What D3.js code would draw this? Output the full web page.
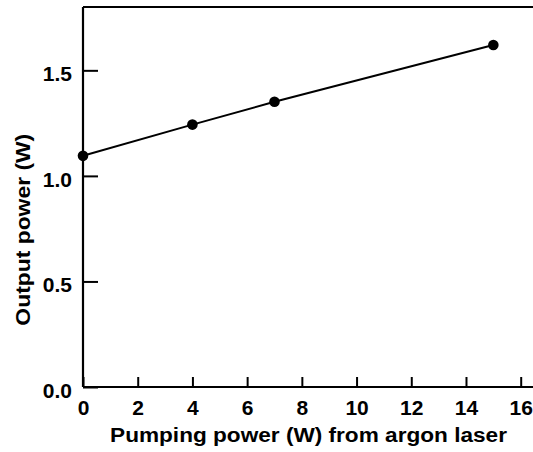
<!DOCTYPE html>
<html>
<head>
<meta charset="utf-8">
<script src="https://d3js.org/d3.v7.min.js"></script>
<style>
  body { margin: 0; background: #fff; }
  text { font-family: "Liberation Sans", Arial, sans-serif; font-weight: bold; fill: #000; }
</style>
</head>
<body>
<script>
// pumping power (W) and output power (W)
var pumping = [0, 4, 7, 15];
var output = [1.095, 1.243, 1.351, 1.62];
var xTicks = [0, 2, 4, 6, 8, 10, 12, 14, 16];
var yTicks = [0.0, 0.5, 1.0, 1.5];

var width = 533, height = 452;
var margin = {top: 7, right: 0, bottom: 65, left: 83};

var x = d3.scaleLinear().domain([0, 16]).range([margin.left, 520.7]);
var y = d3.scaleLinear().domain([0, 1.8]).range([height - margin.bottom, margin.top]);

var svg = d3.select('body').append('svg')
  .attr('width', width)
  .attr('height', height);

// x axis, ticks pointing inside
var gx = svg.append('g')
  .attr('transform', 'translate(0,' + y(0) + ')')
  .call(d3.axisBottom(x).tickValues(xTicks).tickSizeInner(-10).tickSizeOuter(0).tickPadding(13).tickFormat(d3.format('d')));
gx.select('.domain').remove();
gx.selectAll('line').attr('stroke', '#000').attr('stroke-width', 2);
gx.selectAll('text').style('font-size', '21px').attr('dy', '0.71em');

// y axis
var gy = svg.append('g')
  .attr('transform', 'translate(' + x(0) + ',0)')
  .call(d3.axisLeft(y).tickValues(yTicks).tickSizeInner(-15).tickSizeOuter(0).tickPadding(11).tickFormat(d3.format('.1f')));
gy.select('.domain').remove();
gy.selectAll('line').attr('stroke', '#000').attr('stroke-width', 2);
gy.selectAll('text').style('font-size', '21px').attr('dy', '0.5em');

// frame: left, bottom, top (open on the right)
var frame = svg.append('g').attr('stroke', '#000').attr('stroke-width', 2.2).attr('fill', 'none');
frame.append('line').attr('x1', x(0)).attr('x2', x(0)).attr('y1', y(1.8)).attr('y2', y(0));
frame.append('line').attr('x1', x(0)).attr('x2', width).attr('y1', y(0)).attr('y2', y(0));
frame.append('line').attr('x1', x(0)).attr('x2', width).attr('y1', y(1.8)).attr('y2', y(1.8));

var pts = pumping.map(function(p, i) { return {p: p, o: output[i]}; });

svg.append('path')
  .datum(pts)
  .attr('fill', 'none')
  .attr('stroke', '#000')
  .attr('stroke-width', 2)
  .attr('d', d3.line().x(d => x(d.p)).y(d => y(d.o)));

svg.selectAll('circle')
  .data(pts)
  .enter()
  .append('circle')
  .attr('cx', d => x(d.p))
  .attr('cy', d => y(d.o))
  .attr('r', 5.3)
  .attr('fill', '#000');

// axis titles (original lettering is a bit wider than Liberation Sans)
svg.append('text')
  .attr('transform', 'translate(308.5,442) scale(1.077,1)')
  .attr('text-anchor', 'middle')
  .style('font-size', '21px')
  .text('Pumping power (W) from argon laser');

svg.append('text')
  .attr('transform', 'translate(29.5,229.7) rotate(-90) scale(1.09,1)')
  .attr('text-anchor', 'middle')
  .style('font-size', '21px')
  .text('Output power (W)');
</script>
</body>
</html>
